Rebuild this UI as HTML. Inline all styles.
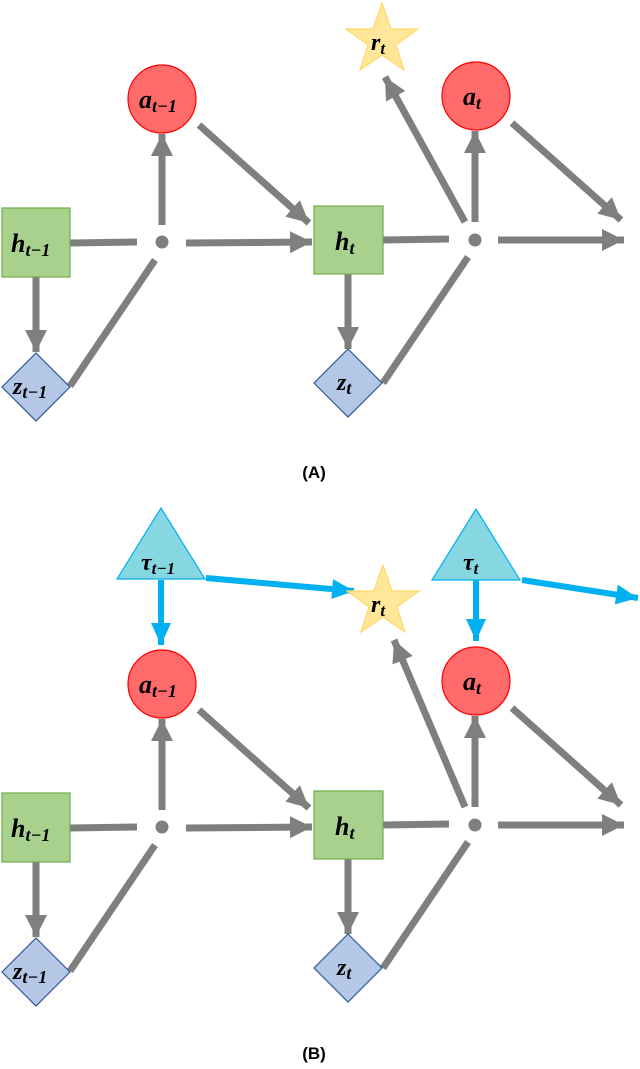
<!DOCTYPE html>
<html><head><meta charset="utf-8"><style>
html,body{margin:0;padding:0;background:#fff;}
svg{display:block;}
text{font-family:"Liberation Serif",serif;font-weight:bold;font-style:italic;fill:#000;}
.cap{font-family:"Liberation Sans",sans-serif;font-style:normal;font-size:17px;}
</style></head><body>
<svg width="640" height="1069" viewBox="0 0 640 1069" xmlns="http://www.w3.org/2000/svg">
<defs>
<marker id="g" markerUnits="userSpaceOnUse" markerWidth="24" markerHeight="22" refX="22" refY="11" orient="auto"><path d="M0,0 L22,11 L0,22 Z" fill="#7f7f7f"/></marker>
<marker id="b" markerUnits="userSpaceOnUse" markerWidth="24" markerHeight="20" refX="22" refY="10" orient="auto"><path d="M0,0 L22,10 L0,20 Z" fill="#00b0f0"/></marker>
<g id="panel">
 <g stroke="#7f7f7f" stroke-width="7" fill="none">
  <line x1="162" y1="225" x2="162" y2="134" marker-end="url(#g)"/>
  <line x1="199" y1="125" x2="309" y2="223" marker-end="url(#g)"/>
  <line x1="70" y1="243" x2="137" y2="242"/>
  <line x1="186" y1="243" x2="312" y2="242" marker-end="url(#g)"/>
  <line x1="36" y1="277" x2="36" y2="352" marker-end="url(#g)"/>
  <line x1="70" y1="386" x2="155" y2="260"/>
  <line x1="475" y1="222" x2="475" y2="131" marker-end="url(#g)"/>
  <line x1="512" y1="123" x2="621" y2="220" marker-end="url(#g)"/>
  <line x1="383" y1="240" x2="449" y2="239"/>
  <line x1="498" y1="240" x2="624" y2="240" marker-end="url(#g)"/>
  <line x1="348" y1="274" x2="348" y2="349" marker-end="url(#g)"/>
  <line x1="383" y1="383" x2="468" y2="257"/>
 </g>
 <circle cx="162" cy="242" r="6.5" fill="#7f7f7f"/>
 <circle cx="475" cy="240" r="6.5" fill="#7f7f7f"/>
 <circle cx="162" cy="99" r="34" fill="#ff6b6b" stroke="#ff0000" stroke-width="1.2"/>
 <circle cx="476" cy="96" r="34" fill="#ff6b6b" stroke="#ff0000" stroke-width="1.2"/>
 <rect x="2" y="208" width="68" height="69" fill="#a9d18e" stroke="#70ad47" stroke-width="1.2"/>
 <rect x="314" y="206" width="69" height="68" fill="#a9d18e" stroke="#70ad47" stroke-width="1.2"/>
 <polygon points="36,353 70,387 36,421 2,387" fill="#b4c7e7" stroke="#2f5597" stroke-width="1.2"/>
 <polygon points="348,349 382,383 348,417 314,383" fill="#b4c7e7" stroke="#2f5597" stroke-width="1.2"/>
 <text x="139" y="108" font-size="26">a<tspan font-size="18" dy="4">t−1</tspan></text>
 <text x="11" y="252" font-size="26">h<tspan font-size="18" dy="4">t−1</tspan></text>
 <text x="13" y="394" font-size="24">z<tspan font-size="18" dy="4">t−1</tspan></text>
 <text x="335" y="250" font-size="26">h<tspan font-size="18" dy="4">t</tspan></text>
 <text x="463" y="105" font-size="26">a<tspan font-size="18" dy="4">t</tspan></text>
 <text x="337" y="390" font-size="24">z<tspan font-size="18" dy="4">t</tspan></text>
</g>
</defs>

<use href="#panel"/>
<line x1="465" y1="222" x2="385" y2="77" stroke="#7f7f7f" stroke-width="7" marker-end="url(#g)"/>
<polygon points="382,3 391,29 418,29 396,45 404,70 382,55 360,70 368,45 346,29 373,29" fill="#ffe699" stroke="#ffd966" stroke-width="1.2"/>
<text x="371" y="50" font-size="24">r<tspan font-size="17" dy="4">t</tspan></text>
<text class="cap" x="314" y="478" text-anchor="middle">(A)</text>

<use href="#panel" y="585"/>
<line x1="465" y1="807" x2="394" y2="640" stroke="#7f7f7f" stroke-width="7" marker-end="url(#g)"/>
<g stroke="#00b0f0" stroke-width="6" fill="none">
 <line x1="161" y1="580" x2="161" y2="645" marker-end="url(#b)"/>
 <line x1="206" y1="578" x2="354" y2="591" marker-end="url(#b)"/>
 <line x1="476" y1="580" x2="476" y2="641" marker-end="url(#b)"/>
 <line x1="522" y1="580" x2="638" y2="598" marker-end="url(#b)"/>
</g>
<polygon points="161,508 205,579 117,579" fill="#87d7e3" stroke="#00b0f0" stroke-width="1.2"/>
<polygon points="476,509 520,580 432,580" fill="#87d7e3" stroke="#00b0f0" stroke-width="1.2"/>
<text x="141" y="570" font-size="24">τ<tspan font-size="17" dy="4">t−1</tspan></text>
<text x="463" y="570" font-size="24">τ<tspan font-size="17" dy="4">t</tspan></text>
<polygon points="383,565 392,591 419,591 397,607 405,632 383,617 361,632 369,607 347,591 374,591" fill="#ffe699" stroke="#ffd966" stroke-width="1.2"/>
<text x="371" y="612" font-size="24">r<tspan font-size="17" dy="4">t</tspan></text>
<text class="cap" x="314" y="1059" text-anchor="middle">(B)</text>
</svg>
</body></html>
